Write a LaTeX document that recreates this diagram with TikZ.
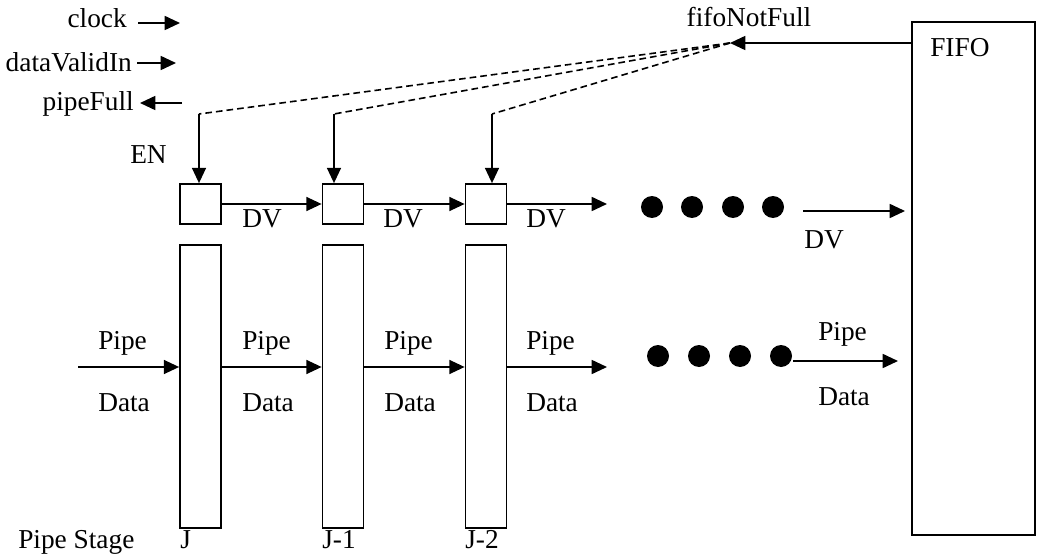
\documentclass[tikz,border=0pt]{standalone}
\usepackage{fontspec}
\setmainfont{Liberation Serif}
\usepackage{tikz}
\usetikzlibrary{arrows.meta, positioning}

\tikzset{
    enbox/.style={draw, line width=1.3pt, minimum width=30.75pt, minimum height=30pt, inner sep=0pt},
    stagebar/.style={draw, line width=1.3pt, minimum width=30.75pt, minimum height=212.25pt, inner sep=0pt},
    fifobox/.style={draw, line width=1.3pt, minimum width=92.25pt, minimum height=384.75pt, inner sep=0pt},
    sig/.style={->, line width=1.3pt},
    fbline/.style={line width=1.2pt, dash pattern=on 5pt off 3pt},
    blackdot/.style={circle, fill=black, minimum size=16.5pt, inner sep=0pt},
    lbl/.style={inner sep=0pt}
}

\begin{document}
\begin{tikzpicture}[x=0.75pt, y=-0.75pt, >={Triangle[length=11.5pt, width=10.5pt]},
    font=\fontsize{20.5}{24}\selectfont]
    \useasboundingbox (0,0) rectangle (1040,560);

    % 1. Các tín hiệu vào/ra bên trái
    \node[lbl, anchor=base east] (clk) at (127,28) {clock};
    \node[lbl, anchor=base east] (dvin) at (132,72) {dataValidIn};
    \node[lbl, anchor=base east] (pfull) at (134,111) {pipeFull};
    \coordinate (clkA) at (138,23);  \coordinate (clkB) at (180,23);
    \coordinate (dvA) at (137,63);   \coordinate (dvB) at (176,63);
    \coordinate (pfA) at (182,103);  \coordinate (pfB) at (140,103);
    \draw[sig] (clkA) -- (clkB);
    \draw[sig] (dvA) -- (dvB);
    \draw[sig] (pfA) -- (pfB);
    \node[lbl, anchor=base west] (en) at (130,163) {EN};

    % 2. Khối FIFO và tín hiệu fifoNotFull
    \node[fifobox] (fifo) at (973.5,278.5) {};
    \node[lbl, anchor=base west] (fifolbl) at (930,57) {FIFO};
    \node[lbl, anchor=base] (nflbl) at (749,27) {fifoNotFull};
    \coordinate (nf) at (730,43);
    \draw[sig] (nf -| fifo.west) -- (nf);

    % 3. Các tầng ống dẫn J, J-1, J-2
    \foreach \i/\cx/\ax/\lx/\name in {1/200.5/199/180/J, 2/343/334/322/J-1, 3/486/492/465/J-2} {
        \node[enbox] (en\i) at (\cx,204) {};
        \node[stagebar] (st\i) at (\cx,386.5) {};
        \node[lbl, anchor=base west] (stlbl\i) at (\lx,548) {\name};
        \coordinate (tap\i) at (\ax,114);
        \draw[fbline] (nf) -- (tap\i);
        \draw[sig] (tap\i) -- (tap\i |- en\i.north);
    }
    \node[lbl, anchor=base west] (stagelbl) at (18,548) {Pipe Stage};

    % Đường DV giữa các ô EN
    \coordinate (dvend) at (607,204);
    \draw[sig] (en1.east) -- (en2.west);
    \draw[sig] (en2.east) -- (en3.west);
    \draw[sig] (en3.east) -- (dvend);
    \foreach \i/\lx in {1/242, 2/383, 3/526}
        \node[lbl, anchor=base west] (dvlbl\i) at (\lx,227) {DV};

    % Đường Pipe Data giữa các tầng
    \coordinate (pin) at (78,367);
    \coordinate (pend) at (607,367);
    \draw[sig] (pin) -- (pin -| st1.west);
    \draw[sig] (st1.east |- pin) -- (pin -| st2.west);
    \draw[sig] (st2.east |- pin) -- (pin -| st3.west);
    \draw[sig] (st3.east |- pin) -- (pend);
    \foreach \i/\lx in {0/98, 1/242, 2/384, 3/526} {
        \node[lbl, anchor=base west] (plbl\i) at (\lx,349) {Pipe};
        \node[lbl, anchor=base west] (dlbl\i) at (\lx,411) {Data};
    }

    % 4. Các chấm tròn biểu thị các tầng còn lại
    \foreach \k/\dx in {1/652, 2/692, 3/733, 4/773}
        \node[blackdot] (topdot\k) at (\dx,207) {};
    \foreach \k/\dx in {1/658, 2/699, 3/740, 4/781}
        \node[blackdot] (botdot\k) at (\dx,356) {};

    % Tín hiệu vào FIFO
    \coordinate (dvlast) at (803,211);
    \coordinate (dvtip) at (905,211);
    \draw[sig] (dvlast) -- (dvtip);
    \node[lbl, anchor=base west] (dvlbl4) at (804,248) {DV};
    \coordinate (plast) at (793,361);
    \coordinate (ptip) at (898,361);
    \draw[sig] (plast) -- (ptip);
    \node[lbl, anchor=base west] (plbl4) at (818,340) {Pipe};
    \node[lbl, anchor=base west] (dlbl4) at (818,405) {Data};

\end{tikzpicture}
\end{document}
